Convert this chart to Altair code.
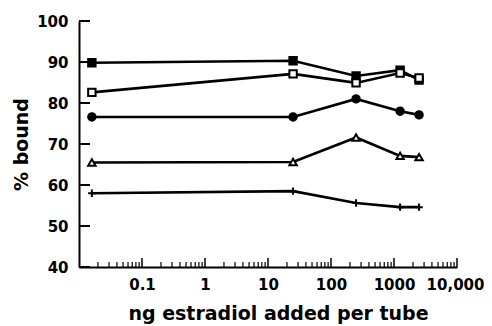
import altair as alt
import pandas as pd

# ---- data ----
x_vals = [0.016, 25, 250, 1250, 2500]
series_names = ["filled square", "open square", "filled circle", "open triangle", "plus"]
filled_sq = [89.8, 90.3, 86.6, 88.0, 85.6]
open_sq = [82.6, 87.1, 84.9, 87.3, 86.1]
filled_circ = [76.6, 76.6, 81.0, 78.0, 77.1]
open_tri = [65.5, 65.6, 71.6, 67.1, 66.8]
plus = [58.0, 58.5, 55.6, 54.6, 54.6]

y_ticks = [40, 50, 60, 70, 80, 90, 100]
x_major = [0.1, 1, 10, 100, 1000, 10000]
x_major_labels = ["0.1", "1", "10", "100", "1000", "10,000"]
x_minor = [m * d for d in [0.01, 0.1, 1, 10, 100, 1000] for m in range(2, 10)]

all_series = [filled_sq, open_sq, filled_circ, open_tri, plus]
rows = []
for name, vals in zip(series_names, all_series):
    for x, y in zip(x_vals, vals):
        rows.append({"series": name, "x": x, "y": y})
df = pd.DataFrame(rows)

W, H = 378, 246
xscale = alt.Scale(type="log", domain=[0.01, 10000], nice=False)
yscale = alt.Scale(domain=[40, 100], nice=False, zero=False)

label_expr = " : ".join(
    f"datum.value < {v * 1.5} ? '{lab}'" for v, lab in zip(x_major[:-1], x_major_labels[:-1])
) + f" : '{x_major_labels[-1]}'"

base = alt.Chart(df)

lines = base.mark_line(color="black", strokeWidth=2.6).encode(
    x=alt.X("x:Q", scale=xscale,
            axis=alt.Axis(values=[0.1, 1, 10, 100, 1000, 9999.9], labelExpr=label_expr,
                          title="ng estradiol added per tube",
                          labelOverlap=False, labelFlush=True, labelFlushOffset=27,
                          ticks=False, grid=False, labelPadding=10, titlePadding=12,
                          titleX=199)),
    y=alt.Y("y:Q", scale=yscale,
            axis=alt.Axis(values=y_ticks, title="% bound", ticks=False, grid=False,
                          labelPadding=11, titlePadding=5)),
    detail="series:N",
)

plus_path = "M-1,0L1,0M0,-1L0,1"
points = base.mark_point(opacity=1, strokeWidth=2).encode(
    x="x:Q",
    y="y:Q",
    shape=alt.Shape("series:N", legend=None,
                    scale=alt.Scale(domain=series_names,
                                    range=["square", "square", "circle", "triangle-up", plus_path])),
    fill=alt.Fill("series:N", legend=None,
                  scale=alt.Scale(domain=series_names,
                                  range=["black", "white", "black", "white", "transparent"])),
    stroke=alt.value("black"),
    size=alt.Size("series:N", legend=None,
                  scale=alt.Scale(domain=series_names, range=[55, 55, 50, 70, 70])),
)

ytick_df = pd.DataFrame({"y": y_ticks})
yticks = alt.Chart(ytick_df).mark_rule(color="black", strokeWidth=2).encode(
    y=alt.Y("y:Q", scale=yscale), x=alt.value(0), x2=alt.value(11)
)

xmaj_df = pd.DataFrame({"x": x_major})
xmaj = alt.Chart(xmaj_df).mark_rule(color="black", strokeWidth=1.5).encode(
    x=alt.X("x:Q", scale=xscale), y=alt.value(H), y2=alt.value(H - 9)
)
xmin_df = pd.DataFrame({"x": x_minor})
xmin = alt.Chart(xmin_df).mark_rule(color="black", strokeWidth=1.2).encode(
    x=alt.X("x:Q", scale=xscale), y=alt.value(H), y2=alt.value(H - 5)
)

chart = (
    alt.layer(lines, yticks, xmaj, xmin, points)
    .properties(width=W, height=H,
                autosize=alt.AutoSizeParams(type="none"),
                padding={"left": 71, "top": 13, "right": 27, "bottom": 59})
    .configure_view(stroke=None)
    .configure_axis(domainColor="black", domainWidth=2,
                    labelFont="DejaVu Sans", labelFontWeight="bold", labelFontSize=15,
                    labelColor="black",
                    titleFont="DejaVu Sans", titleFontWeight="bold", titleFontSize=19,
                    titleColor="black")
)

chart.save("out.html", embed_options={"renderer": "svg", "actions": False})
